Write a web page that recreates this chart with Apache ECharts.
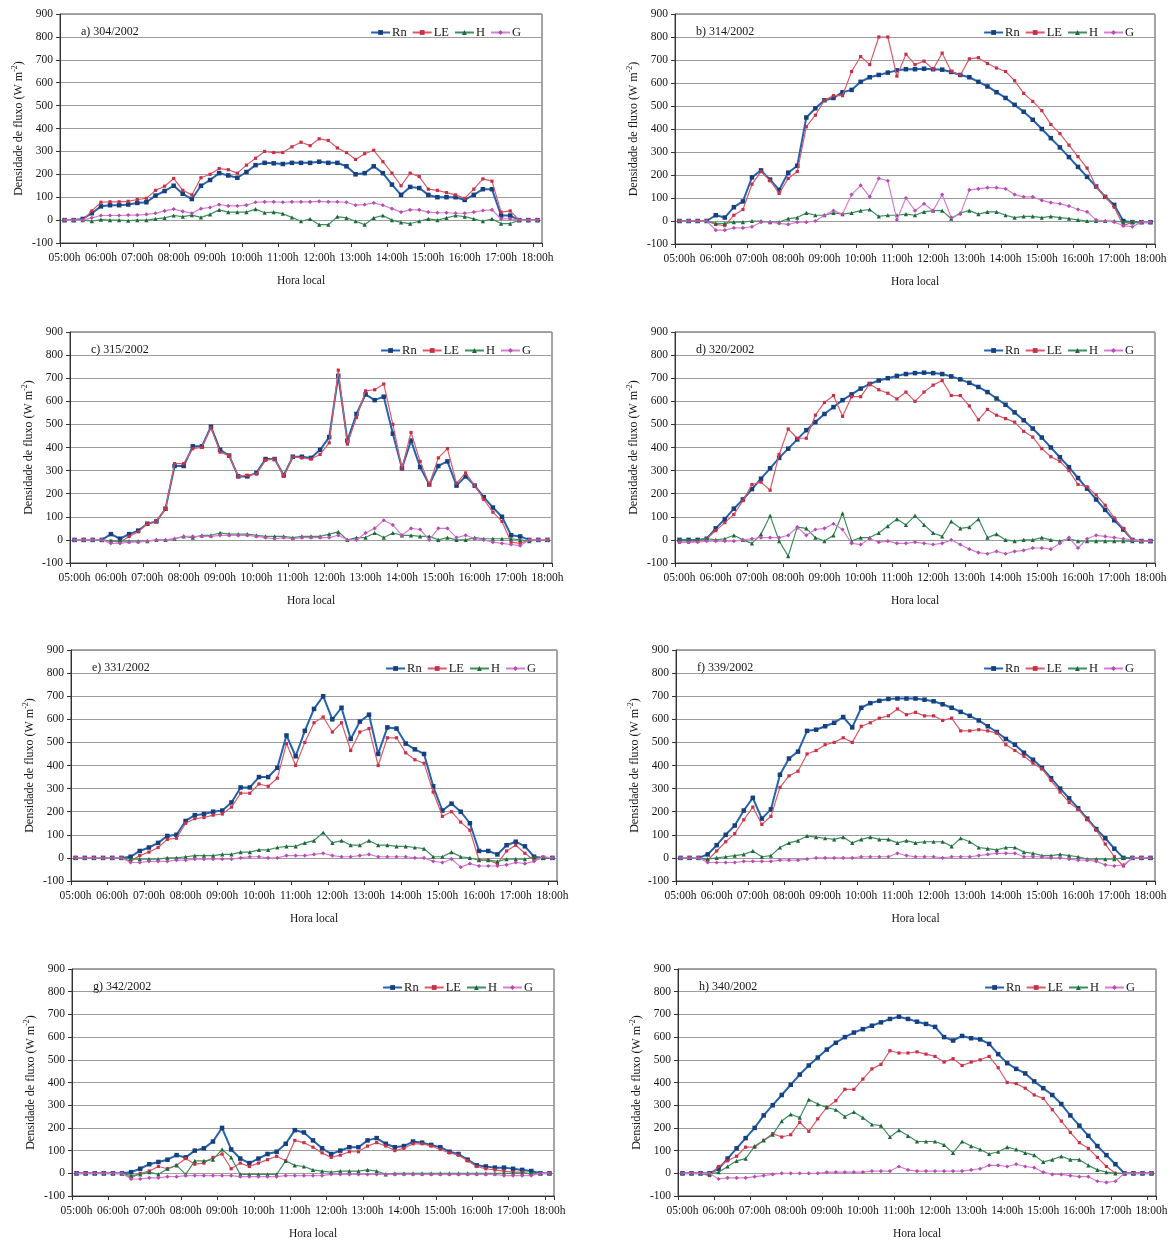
<!DOCTYPE html>
<html>
<head>
<meta charset="utf-8">
<script src="https://cdn.jsdelivr.net/npm/echarts@6/dist/echarts.min.js"></script>
<style>
  html, body { margin: 0; padding: 0; background: #ffffff; }
  #chart { width: 1173px; height: 1241px; }
</style>
</head>
<body>
<div id="chart"></div>
<script>
// Quarter-hour categories, 05:00h .. 18:00h
const times = [
  '05:00h','05:15h','05:30h','05:45h','06:00h','06:15h','06:30h','06:45h',
  '07:00h','07:15h','07:30h','07:45h','08:00h','08:15h','08:30h','08:45h',
  '09:00h','09:15h','09:30h','09:45h','10:00h','10:15h','10:30h','10:45h',
  '11:00h','11:15h','11:30h','11:45h','12:00h','12:15h','12:30h','12:45h',
  '13:00h','13:15h','13:30h','13:45h','14:00h','14:15h','14:30h','14:45h',
  '15:00h','15:15h','15:30h','15:45h','16:00h','16:15h','16:30h','16:45h',
  '17:00h','17:15h','17:30h','17:45h','18:00h'
];
const yMin = -100, yMax = 900, yStep = 100;

// Day 304/2002
const rn304 = [0,0,5,30,60,65,65,68,75,78,107,127,150,115,92,150,175,205,195,185,210,240,250,248,245,250,250,250,255,250,250,235,200,205,235,205,155,110,145,140,110,100,100,100,88,110,135,135,20,20,0,0,0];
const le304 = [0,0,0,40,78,80,80,82,90,95,130,148,182,130,110,185,200,225,220,205,240,270,300,295,295,320,340,325,355,348,315,295,265,290,305,255,205,150,205,190,135,130,120,110,95,135,180,170,35,40,0,0,0];
const h304  = [0,0,0,-5,2,0,0,-2,0,0,5,10,20,15,22,12,25,45,35,35,35,48,32,35,28,12,-5,5,-20,-20,15,10,-5,-20,10,20,0,-10,-15,-5,5,0,10,20,15,5,-5,5,-15,-15,0,0,0];
const g304  = [0,0,0,10,20,20,20,22,22,25,30,40,48,38,30,50,55,68,62,62,65,78,80,80,78,80,80,80,82,80,80,78,65,68,75,65,50,35,45,45,35,32,32,30,30,35,42,45,5,5,0,0,0];

// Day 314/2002
const rn314 = [0,0,0,0,25,15,60,85,190,220,180,135,210,240,450,490,525,535,560,570,605,625,635,645,655,660,660,662,660,658,648,635,625,605,585,560,535,505,475,440,400,360,320,278,235,192,150,105,70,0,-5,-5,-5];
const le314 = [0,0,0,0,-15,-20,25,50,160,215,175,120,185,215,410,460,525,545,545,650,715,680,800,800,630,725,680,695,660,730,650,635,705,710,685,665,650,610,555,520,480,420,380,330,280,230,150,105,60,-20,-5,-5,-5];
const h314  = [0,0,0,0,-10,-10,-5,-5,0,0,-5,-5,10,15,35,25,25,35,30,35,45,50,20,25,25,30,25,40,45,45,10,35,45,30,40,40,25,15,20,20,15,20,15,10,5,0,0,0,0,-5,-5,-5,-5];
const g314  = [0,0,0,0,-40,-40,-30,-30,-25,-5,-5,-10,-15,-5,-5,0,25,45,30,115,155,105,185,175,5,100,45,75,45,115,15,30,135,140,145,145,140,115,105,105,90,80,75,65,50,40,5,0,-5,-20,-25,-5,-5];

// Day 315/2002
const rn315 = [0,0,0,0,25,5,25,40,70,80,135,320,320,405,405,490,390,365,275,275,290,350,350,280,360,360,355,390,445,710,430,545,630,605,620,460,310,430,315,240,320,340,235,275,235,185,140,100,20,15,0,0,0];
const le315 = [0,0,0,0,-5,-10,15,35,70,80,135,330,330,395,400,485,380,365,275,280,285,345,350,275,360,355,350,370,420,735,415,530,645,650,675,500,310,465,340,240,355,395,245,290,235,175,120,80,-10,-15,0,0,0];
const h315  = [0,0,0,0,-5,-5,-5,-5,-5,0,0,5,15,10,20,20,30,25,25,25,20,15,15,15,10,15,15,15,25,35,0,10,10,30,10,30,20,20,15,15,0,10,0,0,10,5,5,5,5,0,-5,0,0];
const g315  = [0,0,0,0,-15,-15,-10,-10,-5,0,0,5,15,15,15,15,20,20,20,20,15,10,5,10,5,10,10,10,10,20,0,0,30,50,85,65,20,50,45,0,50,50,10,20,5,0,-10,-15,-20,-25,0,0,0];

// Day 320/2002
const rn320 = [0,0,0,5,50,90,135,175,220,265,310,355,395,435,475,510,545,575,605,630,655,675,690,700,710,718,722,724,722,718,708,695,680,662,640,612,585,552,518,482,443,400,358,315,268,222,175,130,85,45,0,-5,-5];
const le320 = [-10,-10,-5,5,40,75,110,170,240,250,215,370,480,440,440,540,595,625,535,620,620,675,650,635,610,640,600,640,670,690,625,625,580,520,565,540,525,510,470,445,395,360,340,300,240,230,195,150,95,50,0,-5,-5];
const h320  = [0,0,0,5,0,5,20,0,-15,25,105,-5,-70,55,50,10,-5,20,115,-5,10,10,30,60,90,65,105,65,30,15,80,50,55,90,10,25,0,-5,0,0,10,0,-5,5,-5,-5,-5,-5,-5,-5,-5,-5,-5];
const g320  = [-10,-10,-10,-5,-5,-5,-5,0,5,10,10,10,20,55,20,45,50,70,45,-15,-20,5,-10,-5,-15,-15,-10,-15,-20,-15,0,-20,-40,-55,-60,-50,-60,-50,-45,-35,-35,-40,-15,10,-35,5,20,15,10,5,0,-5,-5];

// Day 331/2002
const rn331 = [0,0,0,0,0,0,5,30,45,65,95,100,160,185,190,200,205,240,305,305,350,350,390,530,440,550,645,700,600,650,515,590,620,450,565,560,495,470,450,310,205,235,200,150,30,30,15,55,70,50,5,0,0];
const le331 = [0,0,0,0,0,0,-15,10,25,45,80,85,150,170,175,185,190,220,280,280,320,310,345,495,400,500,585,610,545,585,465,545,560,400,520,520,455,425,410,285,180,200,155,120,-10,-10,-25,30,55,20,-10,0,0];
const h331  = [0,0,0,0,0,0,-5,-5,-5,-5,0,0,5,10,10,10,15,15,25,25,35,35,45,50,50,65,75,110,65,75,55,55,75,55,55,50,50,45,40,5,5,25,5,0,-10,-10,-15,-5,-5,-5,5,0,0];
const g331  = [0,0,0,0,0,0,-20,-20,-15,-15,-15,-10,-10,-5,-5,-5,-5,-5,0,5,5,0,0,10,10,10,15,20,10,5,5,10,15,5,5,5,5,0,0,-15,-20,-5,-40,-25,-35,-35,-35,-30,-20,-25,-15,5,0];

// Day 339/2002
const rn339 = [0,0,0,15,55,100,140,205,260,170,210,360,430,460,550,555,570,585,610,565,650,670,680,688,690,690,690,685,678,665,650,632,615,595,570,545,515,490,455,425,390,345,300,258,215,170,125,85,40,0,0,0,0];
const le339 = [0,0,0,-10,30,70,105,165,220,145,180,305,355,375,450,465,490,500,520,500,570,585,605,615,645,620,630,615,615,595,605,550,550,555,550,540,490,465,440,410,385,335,285,240,210,165,120,60,5,-35,0,0,0];
const h339  = [0,0,0,-5,0,5,10,15,30,5,10,45,65,75,95,90,85,80,90,65,80,90,80,80,65,75,65,70,70,70,50,85,70,45,40,35,45,45,25,20,10,10,15,10,5,-5,-5,-5,-5,0,0,0,0];
const g339  = [0,0,0,-20,-20,-20,-20,-15,-15,-15,-15,-10,-10,-10,-5,0,0,0,0,0,5,5,5,5,20,10,5,5,5,0,5,5,5,10,15,20,20,20,5,5,5,0,0,-5,-10,-10,-15,-30,-35,-30,0,0,0];

// Day 342/2002
const rn342 = [0,0,0,0,0,0,5,20,40,50,60,80,70,100,110,140,200,105,65,45,65,85,95,130,190,180,145,110,85,100,115,115,145,155,130,115,120,140,135,125,115,95,85,60,35,30,25,25,20,15,10,0,0];
const le342 = [0,0,0,0,0,0,-20,0,10,30,20,35,65,40,45,70,85,20,45,30,45,60,75,55,145,135,115,90,70,80,95,95,120,135,120,100,110,130,130,120,105,90,80,55,30,20,15,10,5,5,-5,0,0];
const h342  = [0,0,0,0,0,0,-10,-5,5,-5,20,35,-5,55,55,60,105,70,-5,-5,-5,-5,-5,55,35,30,15,10,5,10,10,10,15,10,-5,0,0,0,0,0,0,0,0,0,0,0,0,0,0,0,0,0,0];
const g342  = [0,0,0,0,0,0,-25,-25,-20,-20,-15,-15,-10,-10,-10,-10,-10,-10,-15,-15,-15,-15,-15,-10,-10,-10,-10,-10,-5,-5,-5,-5,-5,-5,-5,-5,-5,-5,-5,-5,-5,-5,-5,-5,-5,-5,-5,-10,-10,-10,-10,0,0];

// Day 340/2002
const rn340 = [0,0,0,0,20,65,110,155,200,255,300,345,390,435,475,510,545,575,600,620,635,650,665,680,690,680,668,658,645,600,585,605,595,590,570,525,485,460,440,405,375,345,305,255,210,165,120,80,40,0,0,0,0];
const le340 = [0,0,0,-10,30,55,75,115,115,145,175,160,170,225,185,240,290,320,370,370,415,460,480,540,530,530,535,525,515,490,505,475,490,500,515,465,400,395,375,345,330,280,230,180,135,110,70,30,0,0,0,0,0];
const h340  = [0,0,0,-5,5,30,55,65,120,145,170,230,260,245,325,305,290,280,250,270,245,215,210,160,190,165,140,140,140,125,90,140,120,105,85,95,115,105,90,80,50,60,75,60,60,35,15,5,0,0,0,0,0];
const g340  = [0,0,0,0,-25,-20,-20,-20,-15,-10,-5,0,0,0,0,0,5,5,5,5,5,10,10,10,30,15,10,10,10,10,10,10,15,20,35,35,30,40,30,25,5,-5,-5,-10,-15,-15,-35,-40,-35,0,0,0,0];

const seriesNames = ['Rn', 'LE', 'H', 'G'];

const panels = [
  { label: 'a) 304/2002', values: [rn304, le304, h304, g304] },
  { label: 'b) 314/2002', values: [rn314, le314, h314, g314] },
  { label: 'c) 315/2002', values: [rn315, le315, h315, g315] },
  { label: 'd) 320/2002', values: [rn320, le320, h320, g320] },
  { label: 'e) 331/2002', values: [rn331, le331, h331, g331] },
  { label: 'f) 339/2002', values: [rn339, le339, h339, g339] },
  { label: 'g) 342/2002', values: [rn342, le342, h342, g342] },
  { label: 'h) 340/2002', values: [rn340, le340, h340, g340] }
];

// Plot rectangles (px) for the 4x2 layout
const frames = [
  { left: 60,  top: 14,  width: 482, height: 229 },
  { left: 675, top: 14,  width: 480, height: 230 },
  { left: 70,  top: 332, width: 482, height: 231 },
  { left: 675, top: 332, width: 480, height: 231 },
  { left: 71,  top: 650, width: 486, height: 231 },
  { left: 676, top: 650, width: 479, height: 231 },
  { left: 72,  top: 969, width: 482, height: 230 },
  { left: 678, top: 969, width: 478, height: 229 }
];

const FONT = "'Liberation Serif', 'Times New Roman', serif";
const TEXT = '#161616';

const styles = {
  Rn: { line: '#2563b0', mark: '#173f7c', symbol: 'rect',     size: 4.5, width: 2 },
  LE: { line: '#dc5a68', mark: '#c8304a', symbol: 'rect',     size: 3.2, width: 1.2 },
  H:  { line: '#3f8e5e', mark: '#1e673c', symbol: 'triangle', size: 4.2, width: 1.2 },
  G:  { line: '#d57fd2', mark: '#b54db2', symbol: 'diamond',  size: 4.2, width: 1.2 }
};

const W = 1173;

const option = {
  backgroundColor: '#ffffff',
  animation: false,
  title: panels.map((p, k) => ({
    text: p.label,
    left: frames[k].left + 16,
    top: frames[k].top + 7,
    textStyle: { fontFamily: FONT, fontSize: 12, fontWeight: 'normal', color: TEXT }
  })),
  legend: frames.map(f => ({
    data: seriesNames,
    right: W - (f.left + f.width) + 16,
    top: f.top + 7,
    itemWidth: 19,
    itemHeight: 6,
    itemGap: 5,
    selectedMode: false,
    textStyle: { fontFamily: FONT, fontSize: 12.5, color: TEXT, padding: [0, 0, 0, -3] }
  })),
  grid: frames.map(f => ({
    left: f.left, top: f.top, width: f.width, height: f.height,
    show: true, borderColor: '#4a4a4a', borderWidth: 1, containLabel: false
  })),
  xAxis: frames.map((f, k) => ({
    type: 'category',
    gridIndex: k,
    data: times,
    boundaryGap: true,
    axisLine: { onZero: false, lineStyle: { color: '#333', width: 1 } },
    axisTick: { show: true, interval: 3, length: 4, lineStyle: { color: '#333' } },
    axisLabel: { interval: 3, fontFamily: FONT, fontSize: 11.5, color: TEXT, margin: 9 },
    splitLine: { show: false },
    name: 'Hora local',
    nameLocation: 'middle',
    nameGap: 32,
    nameTextStyle: { fontFamily: FONT, fontSize: 11.5, color: TEXT }
  })),
  yAxis: frames.map((f, k) => ({
    type: 'value',
    gridIndex: k,
    min: yMin, max: yMax, interval: yStep,
    axisLine: { show: true, lineStyle: { color: '#333', width: 1 } },
    axisTick: { show: true, length: 4, lineStyle: { color: '#333' } },
    axisLabel: { fontFamily: FONT, fontSize: 11.5, color: TEXT, margin: 7 },
    splitLine: { show: true, lineStyle: { color: '#9c9c9c', width: 1 } },
    name: 'Densidade de fluxo (W m{sup|-2})',
    nameLocation: 'middle',
    nameRotate: 90,
    nameGap: 34,
    nameTextStyle: {
      fontFamily: FONT, fontSize: 12, color: TEXT,
      rich: { sup: { fontFamily: FONT, fontSize: 8, color: TEXT, verticalAlign: 'top', padding: [0, 0, 7, 0] } }
    }
  })),
  series: []
};

panels.forEach((p, k) => {
  seriesNames.forEach((name, j) => {
    const s = styles[name];
    option.series.push({
      type: 'line',
      name: name,
      xAxisIndex: k,
      yAxisIndex: k,
      data: p.values[j],
      symbol: s.symbol,
      symbolSize: s.size,
      showSymbol: true,
      showAllSymbol: true,
      itemStyle: { color: s.mark },
      lineStyle: { color: s.line, width: s.width },
      emphasis: { disabled: true },
      z: 2 + j
    });
  });
});

const chart = echarts.init(document.getElementById('chart'), null, { renderer: 'canvas' });
chart.setOption(option);
</script>
</body>
</html>
